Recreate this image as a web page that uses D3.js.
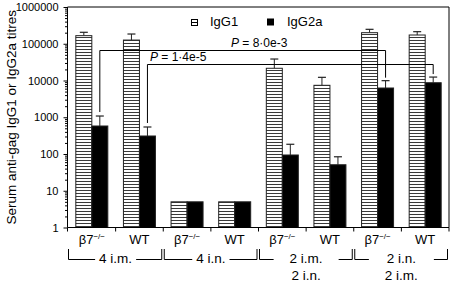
<!DOCTYPE html>
<html>
<head>
<meta charset="utf-8">
<script src="https://cdn.jsdelivr.net/npm/d3@7"></script>
<style>
  body { margin: 0; background: #fff; }
  svg { display: block; font-family: "Liberation Sans", Arial, sans-serif; }
</style>
</head>
<body>
<svg id="chart" width="452" height="284"></svg>
<script>
// genotype under each pair of bars, immunisation groups below
const genotypes = ["β7−/−", "WT", "β7−/−", "WT", "β7−/−", "WT", "β7−/−", "WT"];
const groups = [["4 i.m."], ["4 i.n."], ["2 i.m.", "2 i.n."], ["2 i.n.", "2 i.m."]];
const series = ["IgG1", "IgG2a"];

// titres (bar top) and upper end of error bar, null = no bar
const igg1 = [166000, 126000, 5, 5, 21500, 7400, 200000, 173000];
const igg1Upper = [205000, 184000, null, null, 38400, 12200, 247000, 213000];
const igg2a = [578, 309, 5, 5, 94, 51, 6250, 8700];
const igg2aUpper = [1080, 543, null, null, 184, 84, 9900, 12400];

// significance brackets between IgG2a bars
const comparisons = [
  { from: 0, to: 6, label: "8·0e-3" },
  { from: 1, to: 7, label: "1·4e-5" }
];

const yTicks = [1, 10, 100, 1000, 10000, 100000, 1000000];

const svg = d3.select("#chart");
const plotL = 67.5, plotR = 449, plotT = 7, plotB = 227.5;

const x = d3.scaleBand().domain(d3.range(genotypes.length)).range([68, plotR]);
const xs = d3.scaleBand().domain(series).range([0, 32]);
const y = d3.scaleLog().domain([1, 1e6]).range([plotB, plotT]);

const pairOffset = (x.bandwidth() - 32) / 2;
const barX = (i, s) => x(i) + pairOffset + xs(s);

// stripe pattern for IgG1
const defs = svg.append("defs");
const pat = defs.append("pattern")
  .attr("id", "stripes")
  .attr("patternUnits", "userSpaceOnUse")
  .attr("width", 6).attr("height", 3);
pat.append("rect").attr("width", 6).attr("height", 3).attr("fill", "#fff");
pat.append("rect").attr("y", 1).attr("width", 6).attr("height", 1).attr("fill", "#3a3a3a");

const rows = genotypes.map((g, i) => ({
  i,
  values: [
    { s: "IgG1", v: igg1[i], up: igg1Upper[i] },
    { s: "IgG2a", v: igg2a[i], up: igg2aUpper[i] }
  ]
}));

// bars
const bars = svg.append("g").attr("class", "bars");
rows.forEach(r => {
  r.values.forEach(d => {
    const bx = barX(r.i, d.s);
    if (d.up) {
      const cx = bx + xs.bandwidth() / 2;
      bars.append("line")
        .attr("x1", cx).attr("x2", cx)
        .attr("y1", y(d.v)).attr("y2", y(d.up))
        .attr("stroke", "#222").attr("stroke-width", 1);
      bars.append("line")
        .attr("x1", cx - 4).attr("x2", cx + 4)
        .attr("y1", y(d.up)).attr("y2", y(d.up))
        .attr("stroke", "#222").attr("stroke-width", 1.2);
    }
    bars.append("rect")
      .attr("x", bx)
      .attr("y", y(d.v))
      .attr("width", xs.bandwidth())
      .attr("height", plotB - y(d.v))
      .attr("fill", d.s === "IgG1" ? "url(#stripes)" : "#000")
      .attr("stroke", "#222")
      .attr("stroke-width", 1);
  });
});

// y axis, major and minor ticks
const minor = [];
yTicks.slice(0, -1).forEach(t => { for (let k = 2; k < 10; k++) minor.push(t * k); });

svg.append("g")
  .attr("transform", `translate(${plotL},0)`)
  .call(d3.axisLeft(y).tickValues(minor).tickSize(2.5).tickFormat(""))
  .call(g => g.select(".domain").remove());

const yAxis = svg.append("g")
  .attr("transform", `translate(${plotL},0)`)
  .call(d3.axisLeft(y).tickValues(yTicks).tickSize(4).tickPadding(5).tickFormat(d3.format("d")));
yAxis.select(".domain").remove();
yAxis.selectAll("text").attr("font-size", 11).attr("font-family", "Liberation Sans, Arial, sans-serif").attr("fill", "#000");
yAxis.selectAll("line").attr("stroke", "#000");

// frame
svg.append("path")
  .attr("d", `M${plotL},${plotT}H${plotR}V${plotB}H${plotL}Z`)
  .attr("fill", "none")
  .attr("stroke", "#000")
  .attr("stroke-width", 1);

// x ticks at band edges
const edges = d3.range(genotypes.length + 1).map(i => i === 0 ? plotL : (i === genotypes.length ? plotR : x(i)));
svg.append("g").selectAll("line")
  .data(edges)
  .join("line")
  .attr("x1", d => d).attr("x2", d => d)
  .attr("y1", plotB).attr("y2", plotB + 4)
  .attr("stroke", "#000");

// genotype labels
const lab = svg.append("g").selectAll("text")
  .data(genotypes)
  .join("text")
  .attr("x", (d, i) => x(i) + x.bandwidth() / 2)
  .attr("y", 244)
  .attr("text-anchor", "middle")
  .attr("font-size", 13);
lab.each(function (d) {
  const t = d3.select(this);
  const parts = d.split("−/−");
  t.append("tspan").text(parts[0]);
  if (d.includes("−/−")) {
    t.append("tspan").attr("font-size", 8).attr("dy", -5).text("−/−");
  }
});

// group brackets
groups.forEach((lines, k) => {
  const x0 = (k === 0 ? plotL : x(2 * k)) + 1;
  const x1 = x(2 * k + 1) + x.bandwidth() - 1.5;
  const cx = (x(2 * k) + x(2 * k + 1) + x.bandwidth()) / 2;
  const g = svg.append("g");
  let w = 0;
  lines.forEach((txt, j) => {
    const t = g.append("text")
      .attr("x", cx)
      .attr("y", 263 + j * 17)
      .attr("text-anchor", "middle")
      .attr("font-size", 13.5)
      .text(txt);
    w = Math.max(w, t.node().getComputedTextLength());
  });
  const pad = lines.length > 1 ? 16 : 4;
  const yb = 259.5;
  g.append("path")
    .attr("d", `M${x0},249V${yb}H${cx - w / 2 - pad}M${cx + w / 2 + pad},${yb}H${x1}V249`)
    .attr("fill", "none")
    .attr("stroke", "#000")
    .attr("stroke-width", 1);
});

// significance brackets
const bracketY = [50.5, 64.5];
const labelPos = [{ x: 231, y: 47 }, { x: 150, y: 61 }];
comparisons.forEach((c, k) => {
  const xa = barX(c.from, "IgG2a") + xs.bandwidth() / 2;
  const xb = barX(c.to, "IgG2a") + xs.bandwidth() / 2;
  const ya = y(igg2aUpper[c.from]) - 4;
  const yb = y(igg2aUpper[c.to]) - 3;
  svg.append("path")
    .attr("d", `M${xa},${ya}V${bracketY[k]}H${xb}V${yb}`)
    .attr("fill", "none")
    .attr("stroke", "#000")
    .attr("stroke-width", 1);
  const t = svg.append("text")
    .attr("x", labelPos[k].x)
    .attr("y", labelPos[k].y)
    .attr("font-size", 12);
  t.append("tspan").attr("font-style", "italic").text("P");
  t.append("tspan").text(" = " + c.label);
});

// legend
const legend = svg.append("g");
legend.append("rect")
  .attr("x", 191.5).attr("y", 19.5).attr("width", 6).attr("height", 6)
  .attr("fill", "#fff").attr("stroke", "#000");
legend.append("line")
  .attr("x1", 191.5).attr("x2", 197.5).attr("y1", 22.5).attr("y2", 22.5)
  .attr("stroke", "#000");
legend.append("rect")
  .attr("x", 267).attr("y", 18.5).attr("width", 7).attr("height", 7)
  .attr("fill", "#000");
legend.selectAll("text")
  .data(series)
  .join("text")
  .attr("x", (d, i) => i === 0 ? 210 : 287)
  .attr("y", 25.5)
  .attr("font-size", 13)
  .text(d => d);

// y title
svg.append("text")
  .attr("transform", `translate(16,${(plotT + plotB) / 2}) rotate(-90)`)
  .attr("text-anchor", "middle")
  .attr("font-size", 13.5)
  .text("Serum anti-gag IgG1 or IgG2a titres");
</script>
</body>
</html>
